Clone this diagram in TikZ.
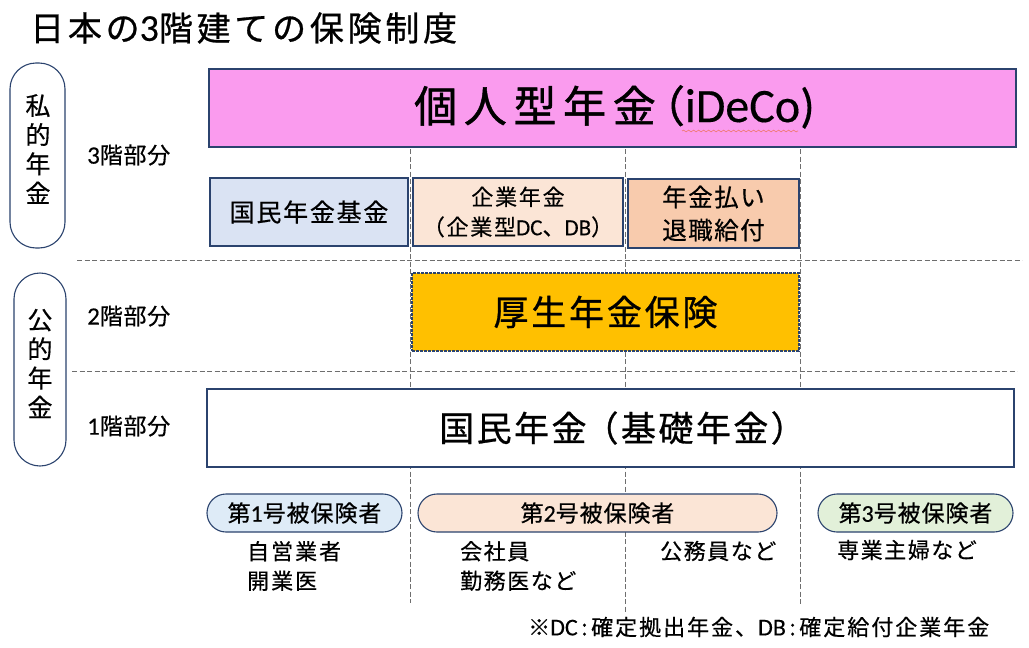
\documentclass[tikz,border=0pt]{standalone}
\usepackage{fontspec}
\setmainfont{Noto Sans CJK JP}
\newfontfamily\latnf{Carlito}
\usetikzlibrary{decorations.pathmorphing}
% size, letterspace percent, baseline, fake bold
\newcommand\jpf[4]{\fontsize{#1pt}{#3pt}\selectfont\addfontfeature{LetterSpace=#2,FakeBold=#4}}
\newcommand\latn[2]{{\latnf\fontsize{#1pt}{#1pt}\selectfont\addfontfeature{FakeBold=0.3}#2}}
\definecolor{edge}{HTML}{2B436E}
\definecolor{dash}{HTML}{6E6E6E}
\tikzset{
  panel/.style={draw=edge,line width=1.1pt,inner sep=0pt,align=center,text=black},
  pill/.style={panel,rounded corners=19pt},
  tall/.style={draw=edge,line width=1.1pt,inner sep=0pt,align=center,rounded corners=26pt},
  guide/.style={draw=dash,line width=0.8pt,dash pattern=on 5pt off 2.5pt},
  lbl/.style={anchor=west,inner sep=0pt,align=left,text=black},
  sidetext/.style={inner sep=0pt,align=center,text=black,font=\jpf{25}{0}{29.2}{0.5}}
}
\begin{document}
\begin{tikzpicture}[x=1pt,y=-1pt]
\useasboundingbox[fill=white] (0,0) rectangle (1029,648);
% guides
\coordinate (ha1) at (77,260); \coordinate (ha2) at (1022,260);
\coordinate (hb1) at (72,371); \coordinate (hb2) at (1017,371);
\coordinate (va1) at (410,149); \coordinate (va2) at (410,603);
\coordinate (vb1) at (625,149); \coordinate (vb2) at (625,613);
\coordinate (vc1) at (800,149); \coordinate (vc2) at (800,605);
\draw[guide] (ha1) -- (ha2);
\draw[guide] (hb1) -- (hb2);
\draw[guide] (va1) -- (va2);
\draw[guide] (vb1) -- (vb2);
\draw[guide] (vc1) -- (vc2);
% title
\node[lbl,font=\jpf{34}{11}{34}{0.7}] (title) at (30,28) {日本の\latn{38}{3}階建ての保険制度};
% side pills
\node[tall,minimum width=55pt,minimum height=185pt] (priv) at (37.5,155.5) {};
\node[sidetext] (privt) at (38,149) {私\\的\\年\\金};
\node[tall,minimum width=52pt,minimum height=193pt] (pub) at (40,369.5) {};
\node[sidetext] (pubt) at (40,363.5) {公\\的\\年\\金};
% tier labels
\node[lbl,font=\jpf{23}{3}{23}{0.5}] (t3) at (87,155) {\latn{25}{3}階部分};
\node[lbl,font=\jpf{23}{3}{23}{0.5}] (t2) at (87,316) {\latn{25}{2}階部分};
\node[lbl,font=\jpf{23}{3}{23}{0.5}] (t1) at (87,426) {\latn{25}{1}階部分};
% boxes
\node[panel,fill={rgb,255:red,250;green,155;blue,238},minimum width=807pt,minimum height=78pt] (ideco) at (612.5,108) {};
\node[lbl,font=\jpf{43}{15.5}{43}{1.1}] (idecot) at (414,107) {個人型年金\hspace*{-14pt}（\hspace*{0pt}\latn{48}{iDeCo)}};
\coordinate (wa) at (682,131); \coordinate (wb) at (798,131);
\draw[draw={rgb,255:red,240;green,120;blue,110},line width=0.6pt,decorate,decoration={snake,amplitude=0.9pt,segment length=5pt}] (wa) -- (wb);
\node[panel,fill={rgb,255:red,218;green,227;blue,243},minimum width=198pt,minimum height=68pt,font=\jpf{25}{7}{25}{0.5}] (kikin) at (309,212) {国民年金基金};
\node[panel,fill={rgb,255:red,251;green,229;blue,214},minimum width=210pt,minimum height=68pt,font=\jpf{22}{8}{30}{0.45}] (kigyo) at (518,212) {企業年金\\（企業型\latn{23}{DC}、\latn{23}{DB}）};
\node[panel,fill={rgb,255:red,248;green,203;blue,173},minimum width=171pt,minimum height=69pt,font=\jpf{24.5}{6}{33}{0.5}] (harai) at (713.5,213.5) {年金払い\\退職給付};
\node[panel,fill={rgb,255:red,255;green,192;blue,0},minimum width=387pt,minimum height=78pt,dash pattern=on 3pt off 1pt,font=\jpf{35}{8}{35}{0.85}] (kosei) at (605.5,312) {\raisebox{-2.5pt}{厚生年金保険}};
\node[panel,fill=white,minimum width=807pt,minimum height=78pt,font=\jpf{35}{7}{35}{0.8}] (kiso) at (610.5,428) {\raisebox{-2.5pt}{国民年金\hspace*{-3pt}（基礎年金）}\hspace*{-24pt}};
% insured pills
\node[pill,fill={rgb,255:red,222;green,235;blue,247},minimum width=195pt,minimum height=38pt,font=\jpf{23}{4}{23}{0.45}] (p1) at (304.5,513) {第\latn{24}{1}号被保険者};
\node[pill,fill={rgb,255:red,251;green,229;blue,214},minimum width=359pt,minimum height=38pt,font=\jpf{23}{4}{23}{0.45}] (p2) at (597.5,513) {第\latn{24}{2}号被保険者};
\node[pill,fill={rgb,255:red,226;green,240;blue,217},minimum width=195pt,minimum height=38pt,font=\jpf{23}{4}{23}{0.45}] (p3) at (915.5,513) {第\latn{24}{3}号被保険者};
% lists
\node[lbl,font=\jpf{22}{9}{29.5}{0.45}] (l1) at (247,566) {自営業者\\開業医};
\node[lbl,font=\jpf{22}{7}{29.5}{0.45}] (l2) at (460,566) {会社員\\勤務医など};
\node[lbl,font=\jpf{22}{7}{22}{0.45}] (l3) at (660,551) {公務員など};
\node[lbl,font=\jpf{22}{7}{22}{0.45}] (l4) at (837,550) {専業主婦など};
\node[lbl,font=\jpf{22}{9}{22}{0.45}] (note) at (528,627) {※\latn{24}{DC}\,:\,確定拠出年金、\hspace*{1pt}\latn{24}{DB}\,:\,確定給付企業年金};
\end{tikzpicture}
\end{document}
